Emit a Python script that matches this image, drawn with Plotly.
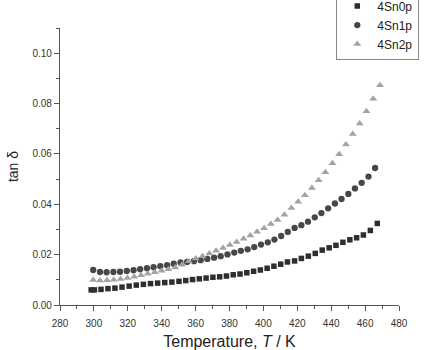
import plotly.graph_objects as go

# Temperatures (K) and tan delta values
T_sn0p = [298.4, 300.3, 304.2, 308.3, 312.4, 316.6, 320.8, 325.0, 329.2, 333.4, 337.6,
          341.8, 346.0, 350.2, 354.2, 358.2, 362.2, 366.2, 370.2, 374.2, 378.2, 382.2,
          386.2, 390.2, 394.2, 398.2, 402.2, 406.2, 410.2, 414.2, 418.4, 422.4, 426.5,
          430.6, 434.7, 438.8, 442.8, 446.9, 451.0, 455.0, 459.0, 463.1, 467.2]
tan_sn0p = [0.0060, 0.0060, 0.0062, 0.0065, 0.0067, 0.0071, 0.0075, 0.0079, 0.0082, 0.0085, 0.0087,
            0.0089, 0.0091, 0.0094, 0.0097, 0.0101, 0.0104, 0.0107, 0.0110, 0.0112, 0.0115, 0.0120,
            0.0123, 0.0128, 0.0134, 0.0139, 0.0146, 0.0154, 0.0162, 0.0171, 0.0175, 0.0185, 0.0194,
            0.0205, 0.0218, 0.0227, 0.0237, 0.0249, 0.0259, 0.0267, 0.0278, 0.0296, 0.0324]

T_sn1p = [299.6, 303.6, 307.5, 311.5, 315.4, 319.4, 323.4, 327.3, 331.3, 335.2, 339.2,
          343.2, 347.1, 351.1, 355.0, 359.0, 363.0, 366.9, 370.9, 374.8, 378.8, 382.8,
          386.7, 390.7, 394.6, 398.6, 402.6, 406.5, 410.5, 414.4, 418.4, 422.4, 426.3,
          430.3, 434.2, 438.2, 442.2, 446.1, 450.1, 454.0, 458.0, 462.0, 465.9]
tan_sn1p = [0.0139, 0.0131, 0.0130, 0.0131, 0.0132, 0.0135, 0.0138, 0.0142, 0.0146, 0.0150, 0.0154,
            0.0158, 0.0164, 0.0169, 0.0171, 0.0174, 0.0178, 0.0183, 0.0188, 0.0194, 0.0201, 0.0208,
            0.0215, 0.0221, 0.0230, 0.0240, 0.0249, 0.0260, 0.0274, 0.0290, 0.0306, 0.0317, 0.0331,
            0.0348, 0.0365, 0.0384, 0.0403, 0.0421, 0.0441, 0.0463, 0.0485, 0.0510, 0.0544]

T_sn2p = [299.6, 303.6, 307.7, 311.7, 315.7, 319.8, 323.8, 327.8, 331.8, 335.9, 339.9,
          343.9, 348.0, 352.0, 356.0, 360.1, 364.1, 368.1, 372.1, 376.2, 380.2, 384.2,
          388.3, 392.3, 396.3, 400.4, 404.4, 408.4, 412.4, 416.5, 420.5, 424.5, 428.6,
          432.6, 436.6, 440.7, 444.7, 448.7, 452.7, 456.8, 460.8, 464.8, 468.8]
tan_sn2p = [0.0099, 0.0097, 0.0098, 0.0100, 0.0103, 0.0107, 0.0112, 0.0118, 0.0124, 0.0130, 0.0136,
            0.0142, 0.0149, 0.0160, 0.0174, 0.0185, 0.0194, 0.0205, 0.0215, 0.0226, 0.0238, 0.0250,
            0.0263, 0.0276, 0.0291, 0.0305, 0.0322, 0.0338, 0.0358, 0.0385, 0.0410, 0.0436, 0.0465,
            0.0495, 0.0527, 0.0563, 0.0599, 0.0637, 0.0679, 0.0721, 0.0769, 0.0819, 0.0873]

x_ticks = [280, 300, 320, 340, 360, 380, 400, 420, 440, 460, 480]
y_ticks = [0.00, 0.02, 0.04, 0.06, 0.08, 0.10]

FONT = "Liberation Sans, Arial, sans-serif"

fig = go.Figure()
fig.add_trace(go.Scatter(x=T_sn0p, y=tan_sn0p, mode="markers", name="4Sn0p",
                         marker=dict(symbol="square", size=5.5, color="#2e2e2e")))
fig.add_trace(go.Scatter(x=T_sn1p, y=tan_sn1p, mode="markers", name="4Sn1p",
                         marker=dict(symbol="circle", size=6.3, color="#474747")))
fig.add_trace(go.Scatter(x=T_sn2p, y=tan_sn2p, mode="markers", name="4Sn2p",
                         marker=dict(symbol="triangle-up", size=7, color="#a3a3a3")))

axis_common = dict(showline=True, linecolor="#555555", linewidth=1.2, ticks="outside",
                   ticklen=5, tickwidth=1, tickcolor="#555555", showgrid=False, zeroline=False,
                   tickfont=dict(family=FONT, size=10, color="#333333"), mirror=False)

fig.update_xaxes(range=[280, 480], tickvals=x_ticks,
                 ticktext=[str(v) for v in x_ticks],
                 ticklabelstandoff=4,
                 minor=dict(dtick=10, ticks="outside", ticklen=3, tickcolor="#555555"),
                 title=dict(text="Temperature, <i>T</i> / K",
                            font=dict(family=FONT, size=16, color="#222222"), standoff=8),
                 **axis_common)
fig.update_yaxes(range=[0, 0.11], tickvals=y_ticks,
                 ticktext=["%.2f" % v for v in y_ticks],
                 minor=dict(dtick=0.01, ticks="outside", ticklen=3, tickcolor="#555555"),
                 title=dict(text="tan δ", font=dict(family=FONT, size=14, color="#222222"),
                            standoff=10),
                 **axis_common)

fig.update_layout(
    width=428, height=350,
    margin=dict(l=60, r=29, t=28, b=45, autoexpand=False),
    plot_bgcolor="white", paper_bgcolor="white",
    font=dict(family=FONT, color="#222222"),
    legend=dict(x=0.815, y=1.135, xanchor="left", yanchor="top",
                bordercolor="#888888", borderwidth=1, bgcolor="white",
                font=dict(family=FONT, size=12, color="#222222"),
                itemwidth=30, tracegroupgap=0),
    showlegend=True,
)

fig.write_html("out.html")
